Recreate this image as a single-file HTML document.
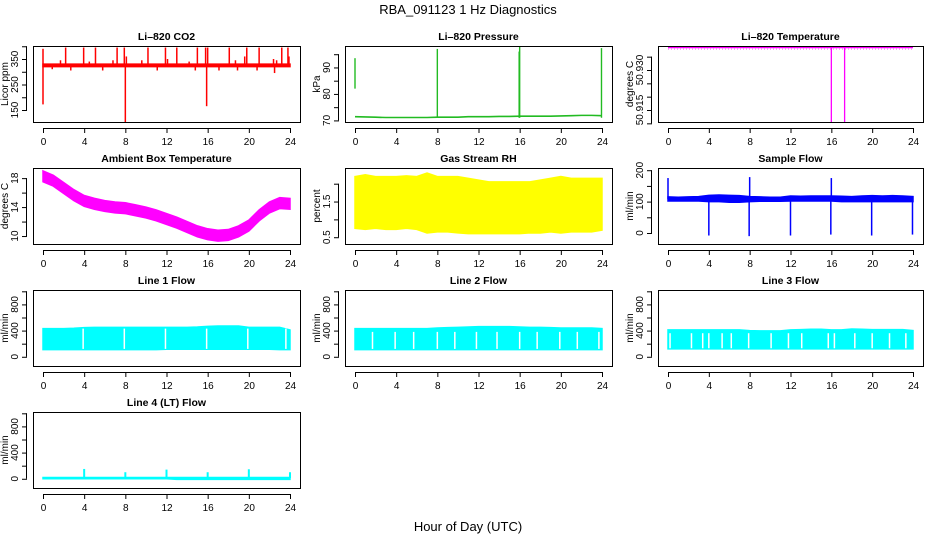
<!DOCTYPE html>
<html><head><meta charset="utf-8">
<style>
html,body{margin:0;padding:0;background:#fff;}
svg{display:block;font-family:"Liberation Sans",Arial,sans-serif;}
.t{font-size:10.5px;font-weight:bold;text-anchor:middle;}
.tk{font-size:10px;text-anchor:middle;}
.yl{font-size:10px;text-anchor:middle;}
</style></head>
<body>
<svg id="chart" width="936" height="540" viewBox="0 0 936 540">
<text x="468" y="14" style="font-size:13px;text-anchor:middle">RBA_091123  1 Hz Diagnostics</text>
<text x="468" y="531" style="font-size:13px;text-anchor:middle">Hour of Day (UTC)</text>
</svg>
<script>
// ---- data ----
const xTicks = [0,4,8,12,16,20,24];
const hours = [0,1,2,3,4,5,6,7,8,9,10,11,12,13,14,15,16,17,18,19,20,21,22,23,24];

const co2Lo = [320,320,320,320,320,320,320,320,320,320,320,320,320,320,320,320,320,320,320,320,320,320,320,320,320];
const co2Hi = [330,330,330,330,330,330,330,330,330,330,330,330,330,330,330,330,330,330,330,330,330,330,330,330,330];
const co2SpikeT = [0.0,0.0,2.2,3.95,5.1,7.2,7.9,8.0,8.1,10.2,11.9,12.1,13.0,15.0,15.8,15.9,16.0,18.1,19.8,21.0,23.2,23.8,1.7,4.5,6.8,9.6,14.2,18.7,19.6,22.4,22.7,23.9,0.9,2.7,5.8,11.1,14.8,17.1,18.9,20.8,22.5];
const co2SpikeV = [390,172,395,395,395,395,395,103,360,395,395,350,395,395,395,165,395,395,395,395,395,395,345,340,345,345,340,345,360,350,345,360,310,305,305,305,305,305,305,305,295];

const presT = [0,1,2,3,4,5,6,7,8,9,10,11,12,13,14,15,16,17,18,19,20,21,22,23,24];
const presV = [71.4,71.3,71.2,71.1,71.1,71.1,71.1,71.1,71.2,71.2,71.2,71.4,71.4,71.4,71.5,71.5,71.6,71.6,71.6,71.6,71.7,71.8,71.9,71.9,71.8];
const presSpikeT = [0.0,8.0,15.95,16.0,23.95];
const presSpikeLo = [82,71,71,71,71];
const presSpikeHi = [93.5,97,96,98,97.3];

const tempBase = 50.9384;
const tempDipT = [16.0,17.3];
const tempDipV = [50.905,50.905];

const ambLo = [17.5,16.9,15.9,14.9,14.1,13.7,13.4,13.2,13.1,12.8,12.5,12.1,11.6,11.1,10.5,9.9,9.5,9.3,9.4,9.9,10.7,12.1,13.2,13.8,13.7];
const ambHi = [19.0,18.4,17.4,16.4,15.6,15.2,14.9,14.7,14.6,14.3,14.0,13.6,13.1,12.6,12.0,11.4,11.0,10.8,10.9,11.4,12.2,13.6,14.7,15.3,15.2];

const rhLo = [0.75,0.72,0.75,0.72,0.72,0.75,0.72,0.62,0.65,0.65,0.62,0.6,0.6,0.6,0.6,0.6,0.6,0.62,0.62,0.65,0.62,0.65,0.65,0.65,0.7];
const rhHi = [2.2,2.25,2.2,2.2,2.2,2.22,2.2,2.3,2.2,2.2,2.2,2.15,2.1,2.05,2.05,2.05,2.05,2.05,2.1,2.15,2.2,2.15,2.15,2.15,2.15];

const sfLo = [102,102,102,102,100,100,98,98,100,101,101,101,102,102,102,102,102,100,100,100,100,100,100,100,100];
const sfHi = [115,114,115,116,120,121,120,119,116,115,114,114,118,117,118,118,118,117,116,118,119,118,119,118,116];
const sfSpikeT = [0.0,8.0,16.0,4.0,7.95,12.0,15.95,19.95,23.95];
const sfSpikeV = [175,178,175,-8,-10,-8,-5,-8,-5];

const l1Lo = [110,110,110,110,110,110,110,110,110,110,110,110,115,115,115,115,115,115,115,115,115,115,115,110,110];
const l1Hi = [430,430,430,435,445,450,450,450,450,450,450,450,450,450,450,455,465,470,470,470,450,450,450,450,410];
const l1Gaps = [3.9,7.9,11.9,15.9,19.9,23.6];

const l2Lo = [110,110,110,110,110,110,110,110,110,110,110,110,110,110,110,110,110,110,110,110,110,110,110,110,110];
const l2Hi = [430,430,430,430,430,430,430,430,440,445,450,455,460,460,460,460,455,450,450,445,440,440,440,440,430];
const l2Gaps = [1.7,3.9,5.7,8.0,9.7,11.8,13.8,16.0,17.7,19.9,21.6,23.7];

const l3Lo = [120,120,120,120,120,120,120,120,120,120,120,120,120,120,120,120,120,120,120,120,120,120,120,120,120];
const l3Hi = [410,410,410,410,410,410,410,410,400,395,395,395,410,415,420,420,410,410,425,420,415,415,415,415,400];
const l3Gaps = [0.2,2.3,3.4,4.0,5.3,6.2,7.9,10.1,11.8,13.1,15.7,16.3,18.3,20.0,21.7,23.3];

const l4Lo = [0,0,0,0,0,0,0,0,0,0,0,0,0,-10,-10,-10,-10,-10,-10,-10,-10,-10,-10,-10,-10];
const l4Hi = [20,20,20,20,20,20,20,20,20,20,20,20,20,20,20,20,20,20,20,20,20,20,20,20,20];
const l4SpikeT = [4.0,8.0,12.0,16.0,20.0,24.0];
const l4SpikeV = [150,100,140,100,145,100];

// ---- layout ----
const svg = document.getElementById('chart');
const NS = 'http://www.w3.org/2000/svg';
const colL = [33,345,658], colR = [300,612,923], rowT = [46,168,290,412], H = 76;
function mk(tag, attrs, parent){ const e=document.createElementNS(NS,tag); for(const k in attrs) e.setAttribute(k,attrs[k]); (parent||svg).appendChild(e); return e; }

function panel(name, title, col, row, ymin, ymax, yTicks, yLabels, ytitle){
  const L=colL[col], R=colR[col], T=rowT[row], B=T+H;
  const g = mk('g',{});
  
  
  const xs = h => L+10 + h/24*(R-L-20);
  const ys = v => B - (v-ymin)/(ymax-ymin)*H;
  const clip = mk('clipPath',{id:'c'+name},g);
  mk('rect',{x:L,y:T,width:R-L,height:H},clip);
  const plot = mk('g',{'clip-path':'url(#c'+name+')'},g);
  
  
  const box = mk('rect',{x:L+0.5,y:T+0.5,width:R-L,height:H,fill:'none',stroke:'#000','stroke-width':1},g);
  
  
  const tt = mk('text',{x:(L+R)/2,y:T-6,class:'t'},g); tt.textContent=title;
  
  
  const xa = mk('g',{},g);
  
  
  mk('line',{x1:xs(xTicks[0]),x2:xs(xTicks[xTicks.length-1]),y1:B+6.5,y2:B+6.5,stroke:'#000'},xa);
  xTicks.forEach(t=>{ mk('line',{x1:xs(t)+0.5,x2:xs(t)+0.5,y1:B+6,y2:B+11,stroke:'#000'},xa);
    const tx=mk('text',{x:xs(t)+0.5,y:B+23,class:'tk'},xa); tx.textContent=t; });
  const ya = mk('g',{},g);
  
  
  mk('line',{x1:L-6.5,x2:L-6.5,y1:ys(yTicks[0]),y2:ys(yTicks[yTicks.length-1]),stroke:'#000'},ya);
  yTicks.forEach((t,i)=>{ mk('line',{x1:L-11,x2:L-6,y1:ys(t)+0.5,y2:ys(t)+0.5,stroke:'#000'},ya);
    if(yLabels[i]!==''){ const tx=mk('text',{x:0,y:0,class:'tk',transform:`translate(${L-15},${ys(t)}) rotate(-90)`},ya); tx.textContent=yLabels[i]; } });
  const yt = mk('text',{x:0,y:0,class:'yl',transform:`translate(${L-25},${(T+B)/2}) rotate(-90)`},g); yt.textContent=ytitle;
  
  
  return {plot,xs,ys};
}
function band(p, t, lo, hi, color){
  let d='M'+t.map((h,i)=>p.xs(h)+','+p.ys(hi[i])).join('L');
  for(let i=t.length-1;i>=0;i--) d+='L'+p.xs(t[i])+','+p.ys(lo[i]);
  const e=mk('path',{d:d+'Z',fill:color,stroke:color,'stroke-width':1.5},p.plot);
  
  
}
function spikes(p, t, base, v, color, w){
  t.forEach((h,i)=>{ const b = Array.isArray(base)?base[i]:base;
    const e=mk('line',{x1:p.xs(h),x2:p.xs(h),y1:p.ys(b),y2:p.ys(v[i]),stroke:color,'stroke-width':w||1.5},p.plot);
    
     });
}
function gaps(p, t, lo, hi){
  t.forEach(h=>{ const e=mk('line',{x1:p.xs(h),x2:p.xs(h),y1:p.ys(lo+10),y2:p.ys(hi),stroke:'#fff','stroke-width':1.5},p.plot);
    
     });
}

let p = panel('co2-panel','Li\u2013820 CO2',0,0,103,401,[150,200,250,300,350,400],['150','','250','','350',''],'Licor ppm');
band(p,hours,co2Lo,co2Hi,'#ff0000');
spikes(p,co2SpikeT,325,co2SpikeV,'#ff0000',1.5);

p = panel('pressure-panel','Li\u2013820 Pressure',1,0,69.4,98.1,[70,75,80,85,90,95],['70','','80','','90',''],'kPa');
(function(){ const d='M'+presT.map((h,i)=>p.xs(h)+','+p.ys(presV[i])).join('L');
  const e=mk('path',{d,fill:'none',stroke:'#22bb22','stroke-width':1.6},p.plot);
  
   })();
spikes(p,presSpikeT,presSpikeLo,presSpikeHi,'#22bb22',1.4);

p = panel('li820-temp-panel','Li\u2013820 Temperature',2,0,50.9105,50.9390,[50.910,50.915,50.920,50.925,50.930,50.935],['','50.915','','','50.930',''],'degrees C');
(function(){ const e=mk('line',{x1:p.xs(0),x2:p.xs(24),y1:p.ys(tempBase),y2:p.ys(tempBase),stroke:'#ff00ff','stroke-width':1.3},p.plot);
  
  
  const dd=mk('line',{x1:p.xs(0),x2:p.xs(24),y1:p.ys(tempBase)+1.5,y2:p.ys(tempBase)+1.5,stroke:'#ff00ff','stroke-width':1,'stroke-dasharray':'1 2','opacity':0.6},p.plot);
  
   })();
spikes(p,tempDipT,tempBase,tempDipV,'#ff00ff',1.3);

p = panel('ambient-temp-panel','Ambient Box Temperature',0,1,8.9,19.4,[10,12,14,16,18],['10','','14','','18'],'degrees C');
band(p,hours,ambLo,ambHi,'#ff00ff');

p = panel('rh-panel','Gas Stream RH',1,1,0.31,2.44,[0.5,1.0,1.5,2.0],['0.5','','1.5',''],'percent');
band(p,hours,rhLo,rhHi,'#ffff00');

p = panel('sample-flow-panel','Sample Flow',2,1,-35,207,[0,50,100,150,200],['0','','100','','200'],'ml/min');
band(p,hours,sfLo,sfHi,'#0000ff');
spikes(p,sfSpikeT,108,sfSpikeV,'#0000ff',1.5);

const flowTicks=[0,200,400,600,800,1000], flowLabels=['0','','400','','800',''];
p = panel('line1-flow-panel','Line 1 Flow',0,2,-141,1020,flowTicks,flowLabels,'ml/min');
band(p,hours,l1Lo,l1Hi,'#00ffff'); gaps(p,l1Gaps,110,430);
p = panel('line2-flow-panel','Line 2 Flow',1,2,-141,1020,flowTicks,flowLabels,'ml/min');
band(p,hours,l2Lo,l2Hi,'#00ffff'); gaps(p,l2Gaps,110,380);
p = panel('line3-flow-panel','Line 3 Flow',2,2,-141,1020,flowTicks,flowLabels,'ml/min');
band(p,hours,l3Lo,l3Hi,'#00ffff'); gaps(p,l3Gaps,120,360);
p = panel('line4-flow-panel','Line 4 (LT) Flow',0,3,-141,1020,flowTicks,flowLabels,'ml/min');
band(p,hours,l4Lo,l4Hi,'#00ffff');
spikes(p,l4SpikeT,10,l4SpikeV,'#00ffff',2);
</script>
</body></html>
